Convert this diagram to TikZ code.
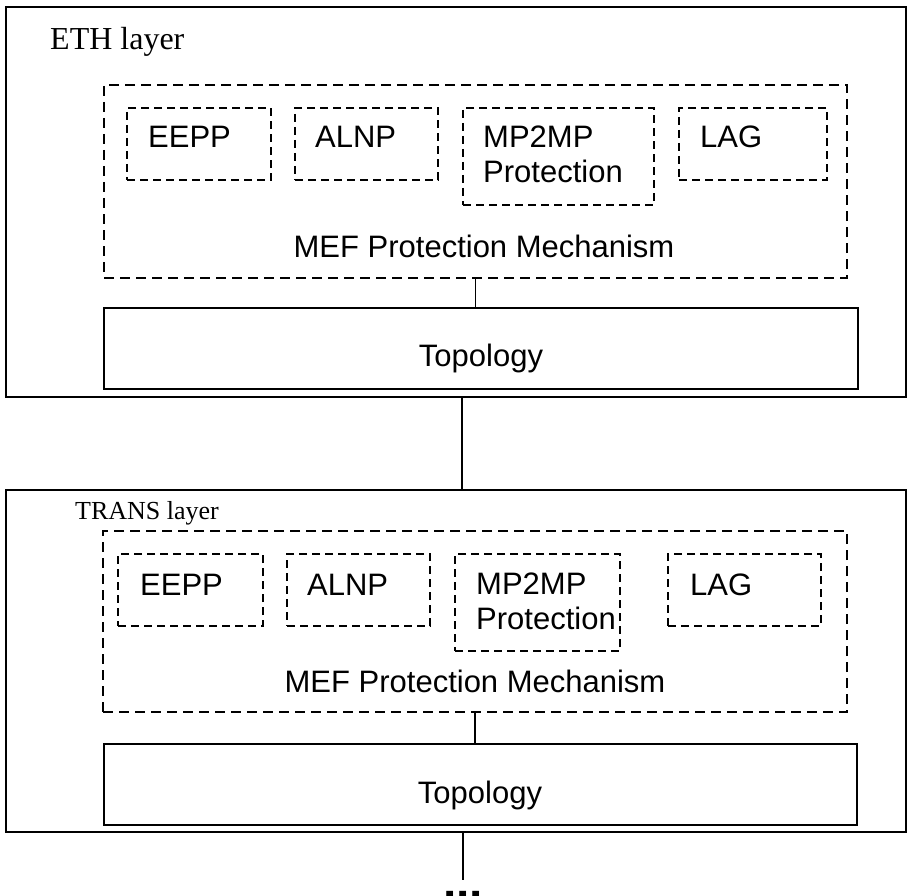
\documentclass[tikz,border=0pt]{standalone}
\usepackage{fontspec}
\setmainfont{Liberation Serif}
\newfontfamily\arial{Liberation Sans}
\begin{document}
\begin{tikzpicture}[x=1pt,y=-1pt,
  box/.style={inner sep=0pt, outer sep=0pt, anchor=north west},
  layerbox/.style={box, draw, line width=1.7pt},
  mefbox/.style={box, draw, line width=2.2pt, dash pattern=on 10pt off 6pt},
  subbox/.style={box, draw, line width=1.6pt, dash pattern=on 8pt off 5pt},
  topobox/.style={box, draw, line width=2.4pt},
  lbl/.style={font=\arial\fontsize{31}{35}\selectfont, inner sep=0pt, align=left},
  layername/.style={inner sep=0pt, anchor=base west},
  wire/.style={line width=1.5pt}]
\useasboundingbox (0,0) rectangle (907,896);
\clip (0,0) rectangle (907,896);

% ---------- ETH layer ----------
\node[layerbox, minimum width=900pt, minimum height=390pt] (outer1) at (6,7) {};
\node[layername, font=\fontsize{32}{38}\selectfont] (eth) at (50,50) {ETH layer};
\node[mefbox, minimum width=743pt, minimum height=193pt] (mef1) at (104,85) {};
\node[subbox, minimum width=144pt, minimum height=72pt] (eepp1) at (127,108) {};
\node[subbox, minimum width=143pt, minimum height=72pt] (alnp1) at (295,108) {};
\node[subbox, minimum width=191pt, minimum height=97pt] (mp1) at (463,108) {};
\node[subbox, minimum width=148pt, minimum height=72pt] (lag1) at (679,108) {};
\node[lbl, anchor=base west] (teepp1) at (148,148) {EEPP};
\node[lbl, anchor=base west] (talnp1) at (315,148) {ALNP};
\node[lbl, anchor=north west] (tmp1) at (483,125.8) {MP2MP\\Protection};
\node[lbl, anchor=base west] (tlag1) at (700,148) {LAG};
\node[lbl, anchor=base] (tmef1) at (484,257) {MEF Protection Mechanism};
\node[topobox, minimum width=754pt, minimum height=81pt] (topo1) at (104,308) {};
\node[lbl, anchor=base] (ttopo1) at (481,366) {Topology};
\draw[wire] (mef1.south) -- (mef1.south |- topo1.north);

% ---------- TRANS layer ----------
\node[layerbox, minimum width=900pt, minimum height=342pt] (outer2) at (6,490) {};
\node[layername, font=\fontsize{26}{31}\selectfont] (trans) at (75,519) {TRANS layer};
\node[mefbox, minimum width=744pt, minimum height=181pt] (mef2) at (103,531) {};
\node[subbox, minimum width=145pt, minimum height=72pt] (eepp2) at (118,554) {};
\node[subbox, minimum width=143pt, minimum height=72pt] (alnp2) at (287,554) {};
\node[subbox, minimum width=165pt, minimum height=97pt] (mp2) at (455,554) {};
\node[subbox, minimum width=153pt, minimum height=72pt] (lag2) at (668,554) {};
\node[lbl, anchor=base west] (teepp2) at (140,595) {EEPP};
\node[lbl, anchor=base west] (talnp2) at (307,595) {ALNP};
\node[lbl, anchor=north west] (tmp2) at (476,572.8) {MP2MP\\Protection};
\node[lbl, anchor=base west] (tlag2) at (690,595) {LAG};
\node[lbl, anchor=base] (tmef2) at (475,692) {MEF Protection Mechanism};
\node[topobox, minimum width=753pt, minimum height=81pt] (topo2) at (104,744) {};
\node[lbl, anchor=base] (ttopo2) at (480,803) {Topology};
\draw[wire] (mef2.south) -- (mef2.south |- topo2.north);

% ---------- link between the layers ----------
\draw[wire] ([xshift=6pt]outer1.south) -- ([xshift=6pt]outer1.south |- outer2.north);

% ---------- continuation ----------
\coordinate (more) at (463,880);
\draw[wire] (outer2.south -| more) -- (more);
\node[inner sep=0pt, anchor=base, font=\arial\bfseries\fontsize{48}{50}\selectfont] (dots) at (463,898) {...};
\end{tikzpicture}
\end{document}
